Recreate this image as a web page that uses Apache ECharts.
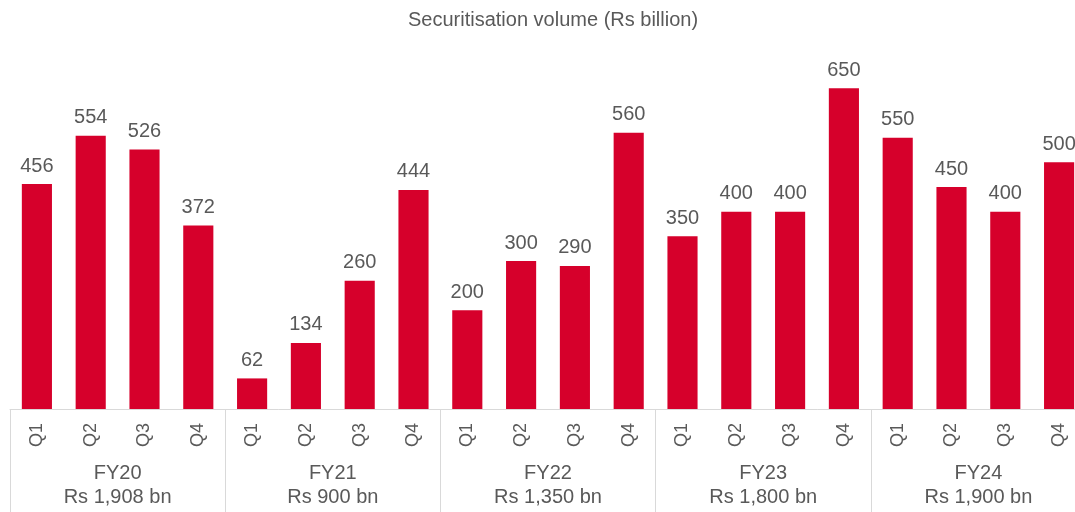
<!DOCTYPE html>
<html>
<head>
<meta charset="utf-8">
<script src="https://cdn.jsdelivr.net/npm/echarts@6/dist/echarts.min.js"></script>
<style>
  html, body { margin: 0; padding: 0; background: #fff; overflow: hidden; }
  /* the canvas runs a little past the window so the last block is clipped at the edge */
  #chart { width: 1086px; height: 512px; }
</style>
</head>
<body>
<div id="chart"></div>
<script>
// Quarterly securitisation volume, Rs billion
const quarters = ['Q1', 'Q2', 'Q3', 'Q4'];
const fiscalYears = ['FY20', 'FY21', 'FY22', 'FY23', 'FY24'];
const yearTotals = ['Rs 1,908 bn', 'Rs 900 bn', 'Rs 1,350 bn', 'Rs 1,800 bn', 'Rs 1,900 bn'];
const volumes = [
  456, 554, 526, 372,
  62, 134, 260, 444,
  200, 300, 290, 560,
  350, 400, 400, 650,
  550, 450, 400, 500
];

const quarterCats = [];
fiscalYears.forEach(fy => quarters.forEach(q => quarterCats.push(fy + ' ' + q)));
const yearCats = fiscalYears.map((fy, i) => fy + '\n' + yearTotals[i]);

const textColor = '#595959';
const lineColor = '#d9d9d9';
const font = '"Liberation Sans", Arial, sans-serif';

const chart = echarts.init(document.getElementById('chart'), null, { renderer: 'canvas' });
chart.setOption({
  animation: false,
  textStyle: { fontFamily: font },
  title: {
    text: 'Securitisation volume (Rs billion)',
    left: 403,
    top: 5,
    textStyle: { fontFamily: font, fontSize: 20, fontWeight: 'normal', color: textColor }
  },
  grid: { left: 10, right: 0, top: 39, bottom: 103, containLabel: false },
  xAxis: [
    {
      type: 'category',
      data: quarterCats,
      axisLine: { lineStyle: { color: lineColor, width: 1 } },
      axisTick: { show: false },
      axisLabel: {
        rotate: 90,
        margin: 14,
        fontSize: 18,
        color: textColor,
        fontFamily: font,
        formatter: v => v.split(' ')[1]
      }
    },
    {
      type: 'category',
      data: yearCats,
      position: 'bottom',
      axisLine: { show: false },
      axisTick: { show: true, inside: false, length: 103, lineStyle: { color: lineColor, width: 1 } },
      axisLabel: {
        margin: 52,
        fontSize: 20,
        lineHeight: 24,
        color: textColor,
        fontFamily: font
      }
    }
  ],
  yAxis: {
    type: 'value',
    min: 0,
    max: 750,
    show: false,
    splitLine: { show: false }
  },
  series: [{
    type: 'bar',
    data: volumes,
    xAxisIndex: 0,
    barWidth: '56%',
    itemStyle: { color: '#d6002b' },
    label: {
      show: true,
      position: 'top',
      distance: 8,
      fontSize: 20,
      color: textColor,
      fontFamily: font
    }
  }]
});
</script>
</body>
</html>
